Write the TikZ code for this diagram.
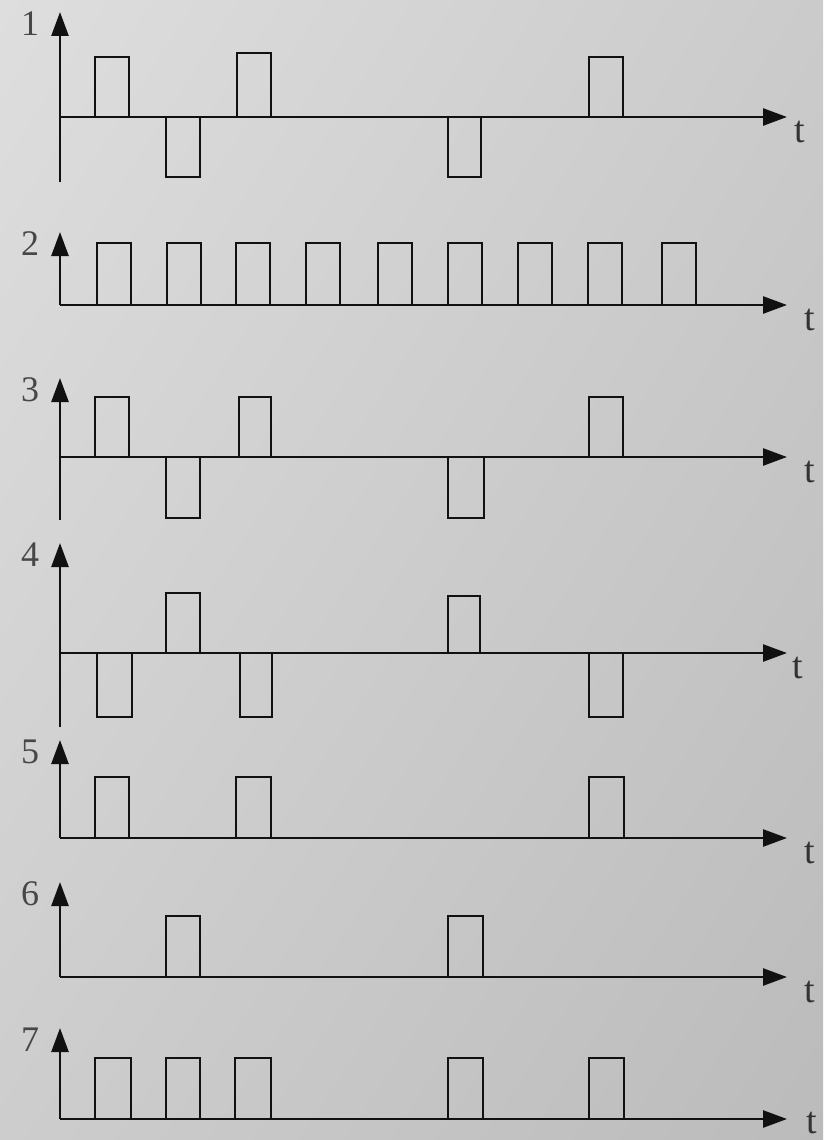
\documentclass[tikz,border=0pt]{standalone}
\usepackage{fontspec}
\setmainfont{Liberation Serif}
\usetikzlibrary{arrows.meta,shadings}
\definecolor{bgTL}{HTML}{DEDEDE}
\definecolor{bgTR}{HTML}{CBCBCB}
\definecolor{bgBL}{HTML}{CDCDCD}
\definecolor{bgBR}{HTML}{BBBBBB}
\definecolor{ink}{HTML}{111111}
\tikzset{
  axisline/.style={draw=ink, line width=2.6pt, -{Triangle[length=24pt,width=17pt]}},
  pulse/.style={draw=ink, line width=2.2pt, line join=miter},
  lbl/.style={text=black!72, font=\fontsize{36}{36}\selectfont, inner sep=0pt},
  tlbl/.style={text=black!80, font=\fontsize{38}{38}\selectfont, inner sep=0pt}
}
\newcommand{\mypanel}[8]{%
  % #1 name, #2 label, #3 baseline y, #4 tip y, #5 bottom y, #6 t x, #7 t dy, #8 pulses
  \coordinate (#1o) at (60,#3);
  \coordinate (#1tip) at (60,#4);
  \coordinate (#1bot) at (60,#5);
  \coordinate (#1end) at (787,#3);
  \draw[axisline] (#1bot) -- (#1tip);
  \draw[axisline] (#1o) -- (#1end);
  \node[lbl] (#1lab) at (30,#4+12) {#2};
  \node[tlbl] (#1t) at (#6,#3+#7) {t};
  \foreach \xa/\xb/\yt in {#8} {
    \draw[pulse] (\xa,#3) -- (\xa,\yt) -- (\xb,\yt) -- (\xb,#3);
  }%
}
\begin{document}
\begin{tikzpicture}[x=1pt,y=-1pt]
\useasboundingbox (0,0) rectangle (823,1140);
\shade[upper left=bgTL, upper right=bgTR, lower left=bgBL, lower right=bgBR] (0,0) rectangle (823,1140);
\mypanel{p1}{1}{117}{12}{182}{800}{15}{95/129/57,166/200/177,237/271/53,448/481/177,589/623/57}
\mypanel{p2}{2}{305}{232}{305}{810}{15}{97/131/243,167/201/243,236/270/243,306/340/243,378/412/243,448/482/243,518/552/243,588/622/243,662/696/243}
\mypanel{p3}{3}{457}{378}{520}{810}{15}{95/129/397,166/200/518,239/271/397,448/484/518,589/623/397}
\mypanel{p4}{4}{653}{543}{727}{798}{15}{97/132/717,166/200/593,240/272/717,448/480/596,589/623/717}
\mypanel{p5}{5}{838}{740}{838}{810}{15}{95/129/777,236/271/777,589/624/777}
\mypanel{p6}{6}{977}{882}{977}{810}{15}{166/200/916,448/483/916}
\mypanel{p7}{7}{1119}{1028}{1119}{812}{4}{95/131/1058,166/200/1058,235/271/1058,448/483/1058,589/624/1058}
\end{tikzpicture}
\end{document}
